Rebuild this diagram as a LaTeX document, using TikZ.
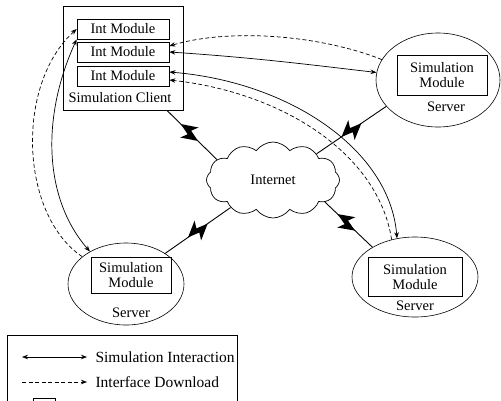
\documentclass[tikz,border=0pt]{standalone}
\usepackage{fontspec}
\setmainfont{Liberation Serif}
\usetikzlibrary{shapes.geometric,shapes.symbols,arrows.meta,calc}
\begin{document}
\begin{tikzpicture}[x=1pt,y=-1pt,
  base/.style={font=\fontsize{14.5}{15}\selectfont},
  leg/.style={font=\fontsize{15.5}{16}\selectfont},
  box/.style={draw, line width=0.7pt, inner sep=0pt},
  srv/.style={draw, ellipse, line width=0.6pt, inner sep=0pt},
  sim/.style={{Stealth[length=6pt,width=4.5pt]}-{Stealth[length=6pt,width=4.5pt]}, line width=0.7pt},
  dl/.style={-{Stealth[length=6pt,width=4.5pt]}, dash pattern=on 4pt off 2.5pt, line width=0.7pt},
  lk/.style={line width=0.9pt},
  bolt/.pic={\fill (-12,0) -- (3,-10) -- (0,-2.5) -- (12,0) -- (-3,10) -- (0,2.5) -- cycle;}
]
\fill[white] (0,0) rectangle (501,400);
\clip (0,0) rectangle (501,400);

% client
\node[box, minimum width=120pt, minimum height=104pt] (client) at (123,58) {};
\node[box, minimum width=92pt, minimum height=20pt, base] (im1) at (123,29) {Int Module};
\node[box, minimum width=92pt, minimum height=20pt, base] (im2) at (123,52) {Int Module};
\node[box, minimum width=92pt, minimum height=20pt, base] (im3) at (123,76) {Int Module};
\node[base] (cl) at (120,98) {Simulation Client};

% servers
\node[srv, minimum width=124pt, minimum height=94pt] (srvA) at (438,80) {};
\node[box, minimum width=90pt, minimum height=40pt, base, align=center] (smA) at (442,75) {Simulation\\Module};
\node[base] (svA) at (446,107) {Server};

\node[srv, minimum width=116pt, minimum height=82pt] (srvB) at (126,284) {};
\node[box, minimum width=80pt, minimum height=36pt, base, align=center] (smB) at (131,275) {Simulation\\Module};
\node[base] (svB) at (131,313) {Server};

\node[srv, minimum width=126pt, minimum height=80pt] (srvC) at (415,277) {};
\node[box, minimum width=94pt, minimum height=39pt, base, align=center] (smC) at (415,277) {Simulation\\Module};
\node[base] (svC) at (415,306) {Server};

% cloud
\node[cloud, draw, cloud puffs=12, cloud puff arc=110, aspect=1.75, minimum width=133pt, minimum height=76pt, inner sep=0pt, line width=0.7pt, base] (cloud) at (273,180) {Internet};

% lightning links
\draw[lk] (client.-50) -- (cloud.160) pic[pos=0.45, sloped]{bolt};
\draw[lk] (cloud.31) -- (srvA.207) pic[pos=0.5, sloped]{bolt};
\draw[lk] (cloud.213) -- (srvB.38) pic[pos=0.5, sloped]{bolt};
\draw[lk] (cloud.-23) -- (srvC.145) pic[pos=0.45, sloped]{bolt};

% connector ends on module boxes
\coordinate (im2t) at ($(im2.east)+(0,-6)$);
\coordinate (im3s) at ($(im3.east)+(0,-4)$);
\coordinate (im3d) at ($(im3.east)+(0,4)$);

% simulation interaction
\draw[sim] (im2.east) .. controls (260,58) and (320,66) .. (srvA.173);
\draw[sim] (im3s) .. controls (290,82) and (390,150) .. (srvC.115);
\draw[sim] (im1.south west) .. controls (40,120) and (45,200) .. (srvB.138);

% interface download
\draw[dl] (srvA.160) .. controls (320,35) and (230,28) .. (im2t);
\draw[dl] (srvC.122) .. controls (378,152) and (280,92) .. (im3d);
\draw[dl] (srvB.148) .. controls (20,215) and (15,85) .. (im1.west);

% legend
\draw[line width=0.7pt] (7,335) rectangle (237,440);
\coordinate (l1a) at (22,357);
\coordinate (l1b) at (87,357);
\draw[sim] (l1a) -- (l1b);
\node[leg, anchor=west] (t1) at (92,357) {Simulation Interaction};
\coordinate (l2a) at (22,382);
\coordinate (l2b) at (87,382);
\draw[dl] (l2a) -- (l2b);
\node[leg, anchor=west] (t2) at (92,382) {Interface Download};
\draw[line width=0.7pt] (33,398) rectangle (55,412);
\end{tikzpicture}
\end{document}
